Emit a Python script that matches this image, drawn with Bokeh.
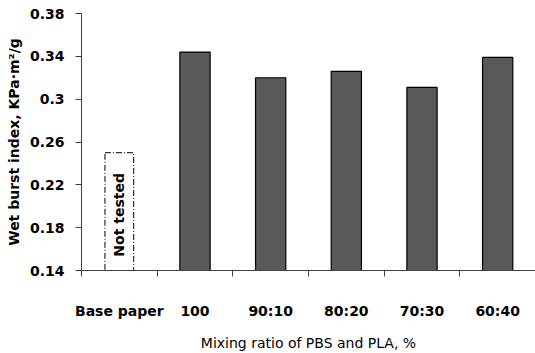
from bokeh.plotting import figure
from bokeh.models import FixedTicker, ColumnDataSource, Range1d
from bokeh.core.properties import value
from bokeh.embed import file_html
from bokeh.resources import INLINE

categories = ["Base paper", "100", "90:10", "80:20", "70:30", "60:40"]
burst_index = [None, 0.344, 0.320, 0.326, 0.311, 0.339]
not_tested_height = 0.25
y_ticks = [0.14, 0.18, 0.22, 0.26, 0.3, 0.34, 0.38]
y_tick_labels = ["0.14", "0.18", "0.22", "0.26", "0.3", "0.34", "0.38"]

FONT = "DejaVu Sans"

p = figure(width=535, height=353, output_backend="svg", toolbar_location=None,
           x_range=Range1d(0, len(categories)), y_range=Range1d(0.14, 0.38),
           min_border_left=81, min_border_right=0, min_border_top=13, min_border_bottom=82)
p.outline_line_color = None
p.xgrid.grid_line_color = None
p.ygrid.grid_line_color = None

xs = [i + 0.5 for i in range(len(categories))]
bar_x = [x for x, v in zip(xs, burst_index) if v is not None]
bar_top = [v for v in burst_index if v is not None]
src = ColumnDataSource(dict(x=bar_x, top=bar_top))
p.vbar(x="x", top="top", bottom=0.14, width=0.4, source=src,
       fill_color="#595959", line_color="#000000", line_width=1.2)

# Not tested placeholder
p.vbar(x=[xs[0]], top=[not_tested_height], bottom=0.14, width=0.38,
       fill_color=None, line_color="#000000", line_width=1, line_dash="6 2 1 2")
p.text(x=[xs[0]], y=[0.192], text=["Not tested"], angle=1.5708,
       text_align="center", text_baseline="middle",
       text_font=value(FONT), text_font_style="bold", text_font_size="14px",
       text_color="#000000")

ax = p.xaxis[0]
ax.ticker = FixedTicker(ticks=xs, minor_ticks=list(range(len(categories) + 1)))
ax.major_label_overrides = {x: c for x, c in zip(xs, categories)}
ax.major_tick_out = 0
ax.major_tick_in = 0
ax.minor_tick_out = 6
ax.minor_tick_in = 0
ax.minor_tick_line_color = "#404040"
ax.axis_line_color = "#404040"
ax.major_label_standoff = 26
ax.major_label_text_font = FONT
ax.major_label_text_font_style = "bold"
ax.major_label_text_font_size = "14px"
ax.major_label_text_color = "#000000"
ax.axis_label = "Mixing ratio of PBS and PLA, %"
ax.axis_label_text_font = FONT
ax.axis_label_text_font_style = "normal"
ax.axis_label_text_font_size = "14px"
ax.axis_label_standoff = 13
ax.axis_label_text_color = "#000000"

ay = p.yaxis[0]
ay.ticker = FixedTicker(ticks=y_ticks, minor_ticks=[])
ay.major_label_overrides = {t: l for t, l in zip(y_ticks, y_tick_labels)}
ay.major_tick_out = 6
ay.major_tick_in = 0
ay.major_tick_line_color = "#404040"
ay.axis_line_color = "#404040"
ay.major_label_standoff = 11
ay.major_label_text_font = FONT
ay.major_label_text_font_style = "bold"
ay.major_label_text_font_size = "14px"
ay.major_label_text_color = "#000000"
ay.axis_label = "Wet burst index, KPa\u00b7m\u00b2/g"
ay.axis_label_text_font = FONT
ay.axis_label_text_font_style = "bold"
ay.axis_label_text_font_size = "14px"
ay.axis_label_standoff = 5
ay.axis_label_text_color = "#000000"

open("out.html", "w").write(file_html(p, INLINE))
